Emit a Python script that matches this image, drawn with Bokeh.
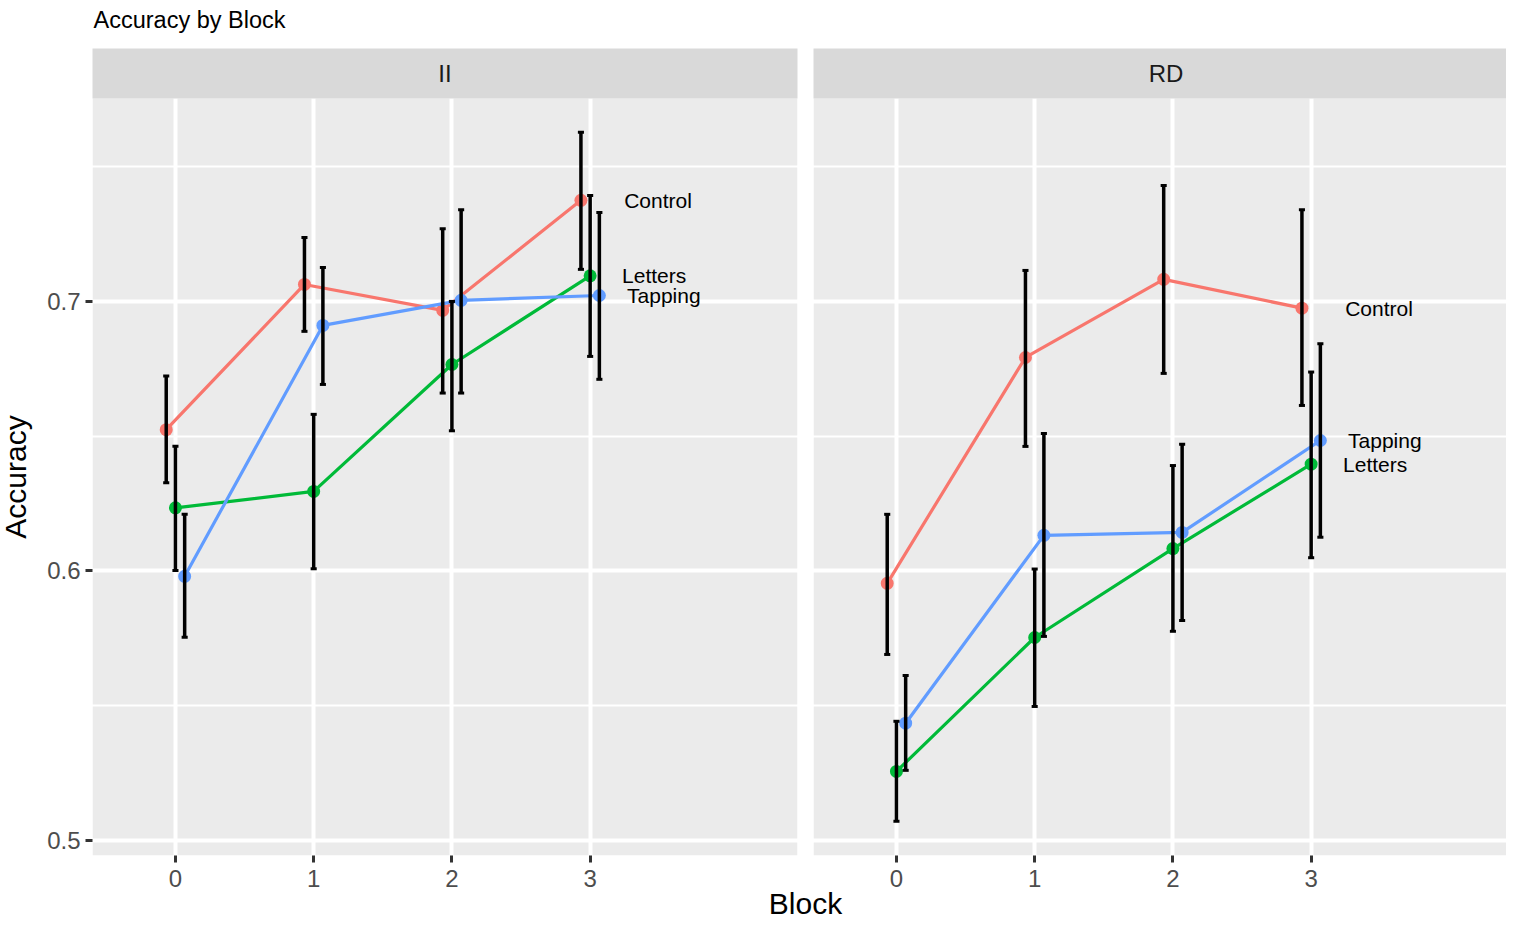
from bokeh.plotting import figure
from bokeh.models import (Range1d, FixedTicker, CustomJSTickFormatter, BoxAnnotation,
                          Label, ColumnDataSource)
from bokeh.core.properties import value
from bokeh.embed import file_html
from bokeh.resources import INLINE
import math

# ---------------- data ----------------
blocks = [0, 1, 2, 3]
panels = ["II", "RD"]
conditions = ["Control", "Letters", "Tapping"]
colors = ["#F8766D", "#00BA38", "#619CFF"]

II_control = [0.6524, 0.7063, 0.6967, 0.7375]
II_control_lo = [0.6327, 0.6889, 0.6660, 0.7119]
II_control_hi = [0.6723, 0.7237, 0.7270, 0.7628]
II_letters = [0.6234, 0.6295, 0.6766, 0.7095]
II_letters_lo = [0.6002, 0.6008, 0.6520, 0.6796]
II_letters_hi = [0.6463, 0.6581, 0.7000, 0.7393]
II_tapping = [0.5980, 0.6911, 0.7004, 0.7022]
II_tapping_lo = [0.5754, 0.6692, 0.6660, 0.6711]
II_tapping_hi = [0.6210, 0.7126, 0.7340, 0.7330]

RD_control = [0.5954, 0.6792, 0.7082, 0.6975]
RD_control_lo = [0.5690, 0.6462, 0.6733, 0.6614]
RD_control_hi = [0.6210, 0.7115, 0.7430, 0.7340]
RD_letters = [0.5256, 0.5753, 0.6083, 0.6396]
RD_letters_lo = [0.5071, 0.5497, 0.5776, 0.6049]
RD_letters_hi = [0.5442, 0.6007, 0.6391, 0.6738]
RD_tapping = [0.5435, 0.6132, 0.6143, 0.6484]
RD_tapping_lo = [0.5260, 0.5757, 0.5816, 0.6125]
RD_tapping_hi = [0.5612, 0.6510, 0.6470, 0.6843]

y_ticks = [0.5, 0.6, 0.7]
y_minor = [0.55, 0.65, 0.75]

title_text = "Accuracy by Block"
x_title = "Block"
y_title = "Accuracy"

series = {
    "II": [(II_control, II_control_lo, II_control_hi),
           (II_letters, II_letters_lo, II_letters_hi),
           (II_tapping, II_tapping_lo, II_tapping_hi)],
    "RD": [(RD_control, RD_control_lo, RD_control_hi),
           (RD_letters, RD_letters_lo, RD_letters_hi),
           (RD_tapping, RD_tapping_lo, RD_tapping_hi)],
}

# ---------------- layout (pixels of the canvas) ----------------
FONT = "Liberation Sans"
W, H = 1506, 921
PANEL_LEFT, STRIP_TOP, STRIP_H, PANEL_W, PANEL_H, GAP = 92, 48, 50, 705, 757, 16

x_lo, x_hi = -0.6, 4.5                  # panel x extent in data units
y_lo, y_top_panel = 0.4944, 0.7753      # panel y extent in data units
pxx = PANEL_W / (x_hi - x_lo)           # px per x unit
pxy = PANEL_H / (y_top_panel - y_lo)    # px per y unit
gap_units = GAP / pxx
offsets = [0.0, (x_hi - x_lo) + gap_units]

x_start = x_lo - PANEL_LEFT / pxx
x_end = x_start + W / pxx
y_end = y_top_panel + (STRIP_TOP + STRIP_H) / pxy
y_start = y_end - H / pxy
y_strip_top = y_top_panel + STRIP_H / pxy

dodge = [-0.0667, 0.0, 0.0667]
label_dx = [3.246, 3.231, 3.267]
cap = 0.022

p = figure(width=W, height=H, output_backend="svg", toolbar_location=None,
           x_range=Range1d(x_start, x_end), y_range=Range1d(y_start, y_end),
           min_border_left=0, min_border_right=0, min_border_top=0, min_border_bottom=0,
           background_fill_color="white", border_fill_color="white",
           outline_line_color=None)
p.title.visible = False

# axes, drawn at the panel edges
xt = []
for off in offsets:
    xt += [b + off for b in blocks]
p.xaxis.ticker = FixedTicker(ticks=xt)
p.xaxis.formatter = CustomJSTickFormatter(
    args=dict(split=x_hi, off=offsets[1]),
    code="return String(Math.round(tick > split ? tick - off : tick));")
p.yaxis.ticker = FixedTicker(ticks=y_ticks, minor_ticks=y_minor)
p.xaxis.fixed_location = y_lo
p.yaxis.fixed_location = x_lo
for ax in (p.xaxis[0], p.yaxis[0]):
    ax.axis_line_color = None
    ax.major_tick_line_color = "#333333"
    ax.major_tick_line_width = 3
    ax.major_tick_out = 7
    ax.major_tick_in = 0
    ax.minor_tick_line_color = None
    ax.major_label_text_font = FONT
    ax.major_label_text_font_size = "24px"
    ax.major_label_text_color = "#4D4D4D"
p.xaxis.major_label_standoff = 7
p.yaxis.major_label_standoff = 5

p.xgrid.grid_line_color = "white"
p.xgrid.grid_line_width = 4
p.ygrid.grid_line_color = "white"
p.ygrid.grid_line_width = 4
p.ygrid.minor_grid_line_color = "white"
p.ygrid.minor_grid_line_width = 2

def box(level, **kw):
    p.add_layout(BoxAnnotation(level=level, fill_alpha=1, line_color=None, **kw))

# grey panel backgrounds below the grid
for off in offsets:
    box("image", left=x_lo + off, right=x_hi + off, bottom=y_lo, top=y_top_panel,
        fill_color="#EBEBEB")
# white surroundings, gap and grey strips over the grid
box("underlay", right=x_lo, fill_color="white")
box("underlay", bottom=y_strip_top, fill_color="white")
box("underlay", top=y_lo, fill_color="white")
box("underlay", left=x_hi, right=x_hi + gap_units, fill_color="white")
for off in offsets:
    box("underlay", left=x_lo + off, right=x_hi + off, bottom=y_top_panel, top=y_strip_top,
        fill_color="#D9D9D9")

# data marks
for pi, panel in enumerate(panels):
    off = offsets[pi]
    for ci, cond in enumerate(conditions):
        vals, lo, hi = series[panel][ci]
        xs = [b + off + dodge[ci] for b in blocks]
        src = ColumnDataSource(dict(x=xs, y=vals))
        p.line("x", "y", source=src, line_color=colors[ci], line_width=3.2)
        p.scatter("x", "y", source=src, size=13, fill_color=colors[ci], line_color=None)
    for ci, cond in enumerate(conditions):
        vals, lo, hi = series[panel][ci]
        xs = [b + off + dodge[ci] for b in blocks]
        src = ColumnDataSource(dict(x=xs, lo=lo, hi=hi,
                                    xl=[x - cap for x in xs], xr=[x + cap for x in xs]))
        p.segment("x", "lo", "x", "hi", source=src, line_color="black", line_width=3.5)
        p.segment("xl", "lo", "xr", "lo", source=src, line_color="black", line_width=3)
        p.segment("xl", "hi", "xr", "hi", source=src, line_color="black", line_width=3)
    lsrc = ColumnDataSource(dict(x=[off + d for d in label_dx],
                                 y=[series[panel][ci][0][-1] for ci in range(3)],
                                 t=conditions))
    p.text("x", "y", text="t", source=lsrc, text_font=value(FONT), text_font_size="21px",
           text_baseline="middle", text_align="left", text_color="black")

# strip texts and titles
for pi, panel in enumerate(panels):
    off = offsets[pi]
    p.add_layout(Label(x=(x_lo + x_hi) / 2 + off, y=(y_top_panel + y_strip_top) / 2,
                       text=panel, text_font=FONT, text_font_size="24px",
                       text_color="#1A1A1A", text_align="center", text_baseline="middle"))
p.add_layout(Label(x=x_lo + 1 / pxx, y=y_strip_top + 29 / pxy, text=title_text,
                   text_font=FONT, text_font_size="23.5px", text_color="black",
                   text_align="left", text_baseline="middle"))
p.add_layout(Label(x=x_lo + ((x_hi - x_lo) * 2 + gap_units) / 2, y=y_lo - 48 / pxy,
                   text=x_title, text_font=FONT, text_font_size="30px", text_color="black",
                   text_align="center", text_baseline="middle"))
p.add_layout(Label(x=x_lo - 77 / pxx, y=(y_lo + y_top_panel) / 2, text=y_title,
                   angle=math.pi / 2, text_font=FONT, text_font_size="30px",
                   text_color="black", text_align="center", text_baseline="middle"))

open("out.html", "w").write(file_html(p, INLINE))
